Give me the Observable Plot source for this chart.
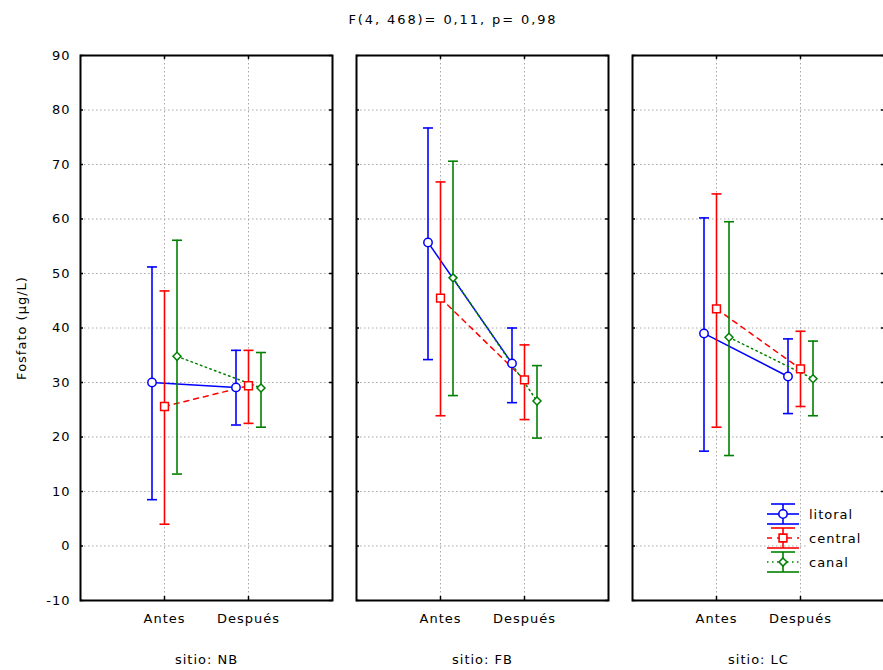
<!DOCTYPE html>
<html>
<head>
<meta charset="utf-8">
<script src="https://cdn.jsdelivr.net/npm/d3@7"></script>
<script src="https://cdn.jsdelivr.net/npm/@observablehq/plot@0.6"></script>
<style>
  html, body { margin: 0; padding: 0; background: #fff; overflow: hidden; }
  #wrap { position: relative; width: 883px; height: 670px; overflow: hidden; font-family: "DejaVu Sans", sans-serif; color: #000; }
  #title { position: relative; height: 40px; }
  #title span { position: absolute; left: 453px; top: 12px; transform: translateX(-50%); font-size: 13px; letter-spacing: 1.9px; white-space: nowrap; }
  #legend { position: absolute; left: 0; top: 0; }
</style>
</head>
<body>
<div id="wrap">
  <div id="title"><span>F(4, 468)= 0,11, p= 0,98</span></div>
  <div id="chart"></div>
</div>
<script>
// ---- data ----
const sitios = ["NB", "FB", "LC"];
const periodos = ["Antes", "Después"];
const series = ["litoral", "central", "canal"];
const yTicks = [-10, 0, 10, 20, 30, 40, 50, 60, 70, 80, 90];

// order: NB-Antes, NB-Después, FB-Antes, FB-Después, LC-Antes, LC-Después
const litoralMedia = [30.0, 29.1, 55.7, 33.5, 39.0, 31.1];
const litoralSup   = [51.2, 35.9, 76.7, 40.0, 60.2, 38.0];
const litoralInf   = [8.5, 22.2, 34.2, 26.3, 17.4, 24.3];

const centralMedia = [25.6, 29.4, 45.5, 30.5, 43.5, 32.5];
const centralSup   = [46.8, 35.9, 66.8, 36.9, 64.6, 39.4];
const centralInf   = [4.0, 22.5, 23.9, 23.2, 21.8, 25.6];

const canalMedia = [34.8, 29.0, 49.2, 26.6, 38.3, 30.7];
const canalSup   = [56.1, 35.5, 70.6, 33.1, 59.5, 37.6];
const canalInf   = [13.2, 21.8, 27.6, 19.8, 16.6, 23.9];

// ---- styles ----
const styleOf = {
  litoral: {color: "#0000ff", dash: null, symbol: "circle", r: 4.2, dx: -12.5},
  central: {color: "#ff0000", dash: "5,5", symbol: "square", r: 4.4, dx: 0},
  canal:   {color: "#008000", dash: "1.5,3.5", symbol: "diamond2", r: 3.6, dx: 12.5}
};

const valuesOf = {
  litoral: [litoralMedia, litoralInf, litoralSup],
  central: [centralMedia, centralInf, centralSup],
  canal: [canalMedia, canalInf, canalSup]
};

const rows = [];
series.forEach(s => {
  const [m, lo, hi] = valuesOf[s];
  sitios.forEach((st, i) => periodos.forEach((p, j) => {
    const k = i * 2 + j;
    rows.push({serie: s, sitio: st, periodo: p, media: m[k], inf: lo[k], sup: hi[k]});
  }));
});

const capSymbol = { draw(ctx) { ctx.moveTo(-5, 0); ctx.lineTo(5, 0); } };
const gridStyle = {stroke: "#a8a8a8", strokeOpacity: 1, strokeDasharray: "1.5,2.5", strokeWidth: 1};

const seriesMarks = series.flatMap(s => {
  const st = styleOf[s];
  const data = rows.filter(d => d.serie === s);
  return [
    Plot.line(data, {fx: "sitio", x: "periodo", y: "media", dx: st.dx, stroke: st.color, strokeWidth: 1.5, strokeDasharray: st.dash}),
    Plot.ruleX(data, {fx: "sitio", x: "periodo", y1: "inf", y2: "sup", dx: st.dx, stroke: st.color, strokeWidth: 1.6}),
    Plot.dot(data, {fx: "sitio", x: "periodo", y: "sup", dx: st.dx, symbol: capSymbol, stroke: st.color, strokeWidth: 1.6, fill: "none"}),
    Plot.dot(data, {fx: "sitio", x: "periodo", y: "inf", dx: st.dx, symbol: capSymbol, stroke: st.color, strokeWidth: 1.6, fill: "none"})
  ];
});
const dotMarks = series.map(s => {
  const st = styleOf[s];
  const data = rows.filter(d => d.serie === s);
  return Plot.dot(data, {fx: "sitio", x: "periodo", y: "media", dx: st.dx, symbol: st.symbol, r: st.r, stroke: st.color, strokeWidth: 1.5, fill: "white"});
});

const chart = Plot.plot({
  width: 886,
  height: 630,
  marginTop: 15,
  marginBottom: 70,
  marginLeft: 79,
  marginRight: 0,
  style: "max-width:none; font-family:'DejaVu Sans', sans-serif; font-size:13px; letter-spacing:1px; background:#fff; color:#000; overflow:visible",
  fx: {domain: sitios, paddingInner: 0.0866, paddingOuter: 0, label: null},
  x: {type: "point", domain: periodos, padding: 1, label: null},
  y: {domain: [-10, 90]},
  marks: [
    Plot.gridY(yTicks, gridStyle),
    Plot.gridX(periodos, gridStyle),
    Plot.tickY(yTicks, {y: d => d, insetRight: 249, stroke: "#000", strokeWidth: 1.5}),
    Plot.tickY(yTicks, {y: d => d, insetLeft: 249, stroke: "#000", strokeWidth: 1.5}),
    Plot.tickX(periodos, {x: d => d, insetBottom: 541, stroke: "#000", strokeWidth: 1.5}),
    Plot.tickX(periodos, {x: d => d, insetTop: 541, stroke: "#000", strokeWidth: 1.5}),
    ...seriesMarks,
    ...dotMarks,
    Plot.frame({stroke: "#000", strokeWidth: 2}),
    Plot.axisY(yTicks, {tickSize: 0, tickPadding: 10, tickFormat: d => String(d), label: "Fosfato (µg/L)", labelAnchor: "center", labelArrow: "none", labelOffset: 64}),
    Plot.axisX({tickSize: 0, tickPadding: 13, label: null}),
    Plot.axisFx({anchor: "bottom", tickSize: 0, tickPadding: 54, label: null, tickFormat: d => `sitio: ${d}`})
  ]
});
document.getElementById("chart").appendChild(chart);

// ---- legend (inside LC panel) ----
const leg = d3.select("#wrap").append("svg").attr("id", "legend")
  .attr("width", 883).attr("height", 670).style("pointer-events", "none");
leg.append("rect").attr("x", 806).attr("y", 500).attr("width", 77).attr("height", 76).attr("fill", "#fff");
series.forEach((s, i) => {
  const st = styleOf[s];
  const cy = 514 + i * 24, cx = 783;
  const g = leg.append("g").attr("stroke", st.color).attr("stroke-width", 1.6).attr("fill", "none");
  g.append("line").attr("x1", cx).attr("x2", cx).attr("y1", cy - 10).attr("y2", cy + 10);
  g.append("line").attr("x1", cx - 12).attr("x2", cx + 12).attr("y1", cy - 10).attr("y2", cy - 10);
  g.append("line").attr("x1", cx - 16).attr("x2", cx + 16).attr("y1", cy + 10).attr("y2", cy + 10);
  g.append("line").attr("x1", cx - 16).attr("x2", cx + 16).attr("y1", cy).attr("y2", cy)
    .attr("stroke-dasharray", st.dash);
  const sym = {circle: d3.symbolCircle, square: d3.symbolSquare, diamond2: d3.symbolDiamond2}[st.symbol];
  g.append("path").attr("d", d3.symbol(sym, Math.PI * st.r * st.r)())
    .attr("transform", `translate(${cx},${cy})`).attr("fill", "#fff");
  leg.append("text").attr("x", 809).attr("y", cy + 5).text(s)
    .attr("font-family", "'DejaVu Sans', sans-serif").attr("font-size", 13).attr("letter-spacing", 1).attr("fill", "#000");
});
</script>
</body>
</html>
